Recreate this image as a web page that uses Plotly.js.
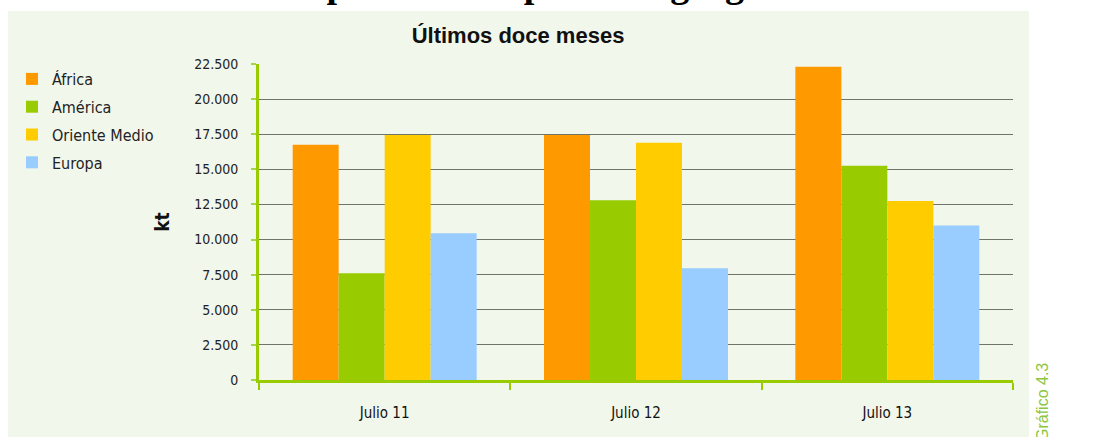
<!DOCTYPE html>
<html>
<head>
<meta charset="utf-8">
<script src="https://cdn.plot.ly/plotly-3.0.1.min.js"></script>
<style>html,body{margin:0;padding:0;background:#fff;}#chart{width:1099px;height:437px;}</style>
</head>
<body>
<div id="chart"></div>
<script>
const categories = ["Julio 11", "Julio 12", "Julio 13"];
const seriesNames = ["África", "América", "Oriente Medio", "Europa"];
const africa = [16750, 17450, 22300];
const america = [7600, 12800, 15250];
const orienteMedio = [17450, 16900, 12750];
const europa = [10450, 7950, 11000];
const seriesColors = ["#FF9900", "#99CC00", "#FFCC00", "#99CCFF"];
const yTickValues = [0, 2500, 5000, 7500, 10000, 12500, 15000, 17500, 20000, 22500];

const values = [africa, america, orienteMedio, europa];
const narrow = "'DejaVu Sans Condensed', 'Liberation Sans Narrow', sans-serif";

const traces = values.map((v, i) => ({
  type: "bar",
  name: seriesNames[i],
  x: categories,
  y: v,
  marker: {color: seriesColors[i], line: {width: 0}},
  legendgroup: "g" + i,
  hoverinfo: "x+y+name"
}));

const layout = {
  width: 1099,
  height: 437,
  margin: {l: 259, r: 86, t: 64, b: 57},
  paper_bgcolor: "#FFFFFF",
  plot_bgcolor: "rgba(0,0,0,0)",
  separators: ",.",
  barmode: "group",
  bargap: 0.268,
  bargroupgap: 0,
  showlegend: true,
  title: {
    text: "<b>Últimos doce meses</b>",
    font: {family: "'Liberation Sans', Arial, sans-serif", size: 22, color: "#111111"},
    xref: "container", x: 518 / 1099, xanchor: "center",
    yref: "container", y: 1 - 35 / 437, yanchor: "middle"
  },
  legend: {
    x: (12 - 259) / 754, xanchor: "left",
    y: (380 - 62) / 316, yanchor: "top",
    bgcolor: "rgba(0,0,0,0)",
    borderwidth: 0,
    font: {family: narrow, size: 16, color: "#222222"},
    traceorder: "grouped",
    tracegroupgap: 4
  },
  xaxis: {
    type: "category",
    showline: true, linecolor: "#99CC00", linewidth: 3,
    ticks: "outside", tickson: "boundaries", ticklen: 7, tickwidth: 2, tickcolor: "#99CC00",
    ticklabelstandoff: 17,
    tickfont: {family: narrow, size: 15, color: "#111111"},
    showgrid: false, zeroline: false, fixedrange: true
  },
  yaxis: {
    range: [0, 22500],
    tickvals: yTickValues,
    tickformat: ",d",
    showline: true, linecolor: "#99CC00", linewidth: 3,
    ticks: "outside", ticklen: 5, tickwidth: 2, tickcolor: "#A6D447",
    ticklabelstandoff: 10,
    tickfont: {family: narrow, size: 14, color: "#222222"},
    showgrid: true, gridcolor: "#6F7669", gridwidth: 1,
    zeroline: false, fixedrange: true,
    title: {text: "<b>kt</b>", font: {family: narrow, size: 19, color: "#111111"}, standoff: 20}
  },
  shapes: [{
    type: "rect", xref: "paper", yref: "paper", layer: "below",
    x0: (8 - 259) / 754, x1: (1029 - 259) / 754,
    y0: (380 - 440) / 316, y1: (380 - 11) / 316,
    fillcolor: "#F2F7EC", line: {width: 0}
  }],
  annotations: [
    {
      text: "<b>Importaciones por área geográfica</b>",
      xref: "paper", yref: "paper",
      x: (278 - 259) / 754, xanchor: "left",
      y: (380 - 7) / 316, yanchor: "bottom",
      showarrow: false,
      font: {family: "'Liberation Serif', 'Times New Roman', serif", size: 38, color: "#000000"}
    },
    {
      text: "Gráfico 4.3",
      xref: "paper", yref: "paper",
      x: (1042 - 259) / 754, xanchor: "center",
      y: (380 - 402) / 316, yanchor: "middle",
      textangle: -90,
      showarrow: false,
      font: {family: "'Liberation Sans', Arial, sans-serif", size: 16, color: "#8DC63F"}
    }
  ]
};

Plotly.newPlot("chart", traces, layout, {displayModeBar: false, staticPlot: true});
</script>
</body>
</html>
